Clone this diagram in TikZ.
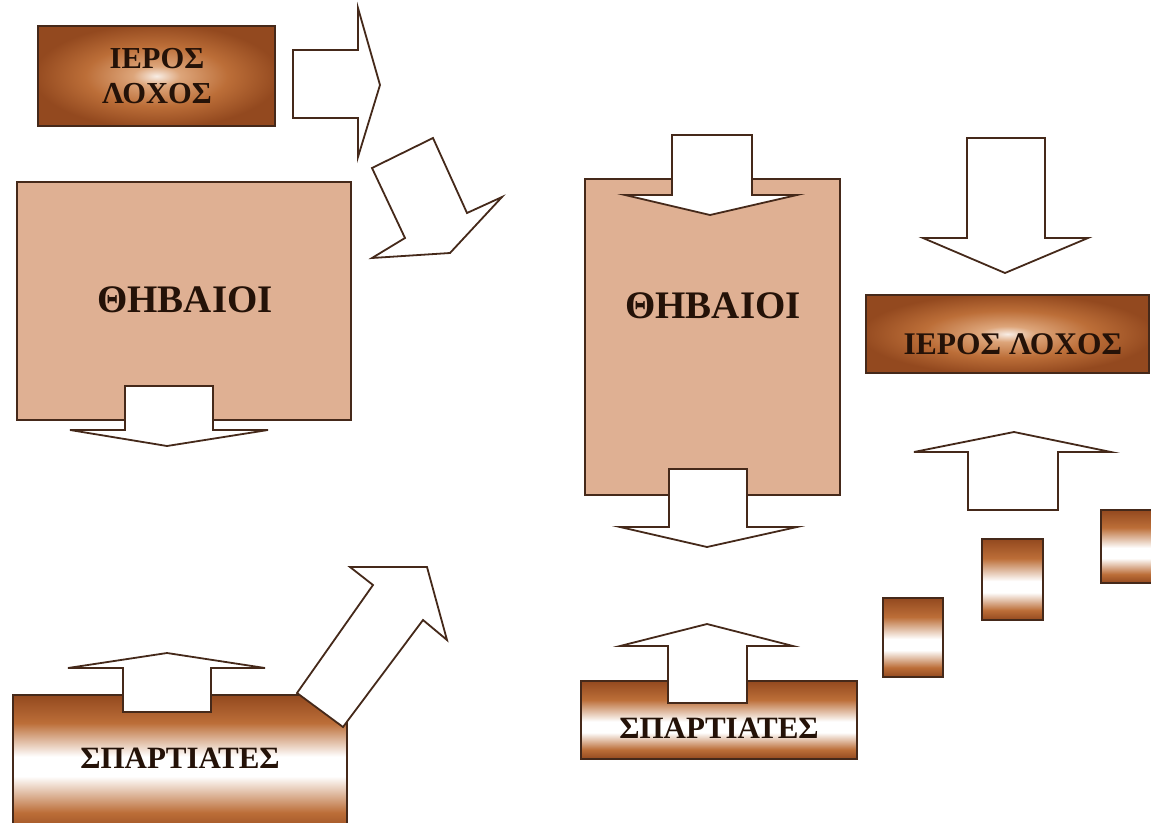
\documentclass[tikz,border=0pt]{standalone}
\usepackage{fontspec}
\setmainfont{Liberation Serif}
\definecolor{brA}{HTML}{93491F}
\definecolor{brB}{HTML}{BC6E38}
\definecolor{brC}{HTML}{DDA57A}
\definecolor{tanF}{HTML}{DFB093}
\definecolor{edgeC}{HTML}{45291A}
\definecolor{ink}{HTML}{241208}
\pgfdeclareverticalshading{cylsh}{100bp}{color(0bp)=(brA); color(25bp)=(brA); color(31bp)=(brB); color(42bp)=(white); color(49bp)=(white); color(63bp)=(brB); color(75bp)=(brA); color(100bp)=(brA)}
\pgfdeclareverticalshading{cylshL}{100bp}{color(0bp)=(brA); color(25bp)=(brA); color(33bp)=(brB); color(46bp)=(white); color(53bp)=(white); color(65bp)=(brB); color(75bp)=(brA); color(100bp)=(brA)}
\pgfdeclareradialshading{radsh}{\pgfpoint{0bp}{0bp}}{color(0bp)=(white!80!brC); color(5bp)=(brC); color(15bp)=(brB); color(26bp)=(brA); color(50bp)=(brA)}
\tikzset{
  boxbase/.style={draw=edgeC, line width=1.8pt, inner sep=0pt, outer sep=0pt},
  tanbox/.style={boxbase, fill=tanF},
  cylbox/.style={boxbase, shading=cylsh},
  radbox/.style={boxbase, shading=radsh},
  blk/.style={draw=edgeC, fill=white, line width=1.8pt, line join=miter},
  lbl/.style={text=ink, inner sep=0pt, font=\bfseries},
}
\begin{document}
\begin{tikzpicture}[x=1pt,y=-1pt]
\useasboundingbox (0,0) rectangle (1151,822);
\clip (0,0) rectangle (1151,822);
\fill[white] (0,0) rectangle (1151,822);
% boxes
\node[radbox, minimum width=237, minimum height=100] (ierL) at (156.5,76) {};
\node[tanbox, minimum width=334, minimum height=238] (thbL) at (184,301) {};
\node[cylbox, shading=cylshL, minimum width=334, minimum height=140] (spL) at (180,765) {};
\node[tanbox, minimum width=255, minimum height=316] (thbR) at (712.5,337) {};
\node[radbox, minimum width=283, minimum height=78] (ierR) at (1007.5,334) {};
\node[cylbox, minimum width=276, minimum height=78] (spR) at (719,720) {};
\node[cylbox, minimum width=60, minimum height=79] (sm1) at (913,637.5) {};
\node[cylbox, minimum width=61, minimum height=81] (sm2) at (1012.5,579.5) {};
\node[cylbox, minimum width=59, minimum height=73] (sm3) at (1130.5,546.5) {};
% labels
\node[lbl, align=center, font=\bfseries\fontsize{30.5}{35}\selectfont] (tIerL) at (157,76) {ΙΕΡΟΣ\\ΛΟΧΟΣ};
\node[lbl, font=\bfseries\fontsize{39}{42}\selectfont] (tThbL) at (185,300) {ΘΗΒΑΙΟΙ};
\node[lbl, font=\bfseries\fontsize{31}{34}\selectfont] (tSpL) at (180,758) {ΣΠΑΡΤΙΑΤΕΣ};
\node[lbl, font=\bfseries\fontsize{39}{42}\selectfont] (tThbR) at (713,306) {ΘΗΒΑΙΟΙ};
\node[lbl, font=\bfseries\fontsize{31.5}{34}\selectfont] (tIerR) at (1013,344) {ΙΕΡΟΣ ΛΟΧΟΣ};
\node[lbl, font=\bfseries\fontsize{31}{34}\selectfont] (tSpR) at (719,728) {ΣΠΑΡΤΙΑΤΕΣ};
% block arrows
\draw[blk] (293,50) -- (358,50) -- (358,8) -- (380,85) -- (358,157) -- (358,118) -- (293,118) -- cycle;
\draw[blk] (372,168) -- (433,138) -- (467,213) -- (502,197) -- (450,253) -- (372,258) -- (405,238) -- cycle;
\draw[blk] (125,386) -- (213,386) -- (213,430) -- (268,430) -- (167,446) -- (70,430) -- (125,430) -- cycle;
\draw[blk] (123,712) -- (123,668) -- (68,668) -- (167,653) -- (265,668) -- (211,668) -- (211,712) -- cycle;
\draw[blk] (297,693) -- (373,585) -- (350,567) -- (427,567) -- (447,640) -- (423,620) -- (343,727) -- cycle;
\draw[blk] (672,135) -- (752,135) -- (752,195) -- (797,195) -- (710,215) -- (625,195) -- (672,195) -- cycle;
\draw[blk] (669,469) -- (747,469) -- (747,527) -- (797,527) -- (707,547) -- (620,527) -- (669,527) -- cycle;
\draw[blk] (668,703) -- (668,646) -- (620,646) -- (707,624) -- (793,646) -- (747,646) -- (747,703) -- cycle;
\draw[blk] (967,138) -- (1045,138) -- (1045,238) -- (1088,238) -- (1005,273) -- (923,238) -- (967,238) -- cycle;
\draw[blk] (968,510) -- (968,452) -- (914,452) -- (1014,432) -- (1111,452) -- (1058,452) -- (1058,510) -- cycle;
\end{tikzpicture}
\end{document}
